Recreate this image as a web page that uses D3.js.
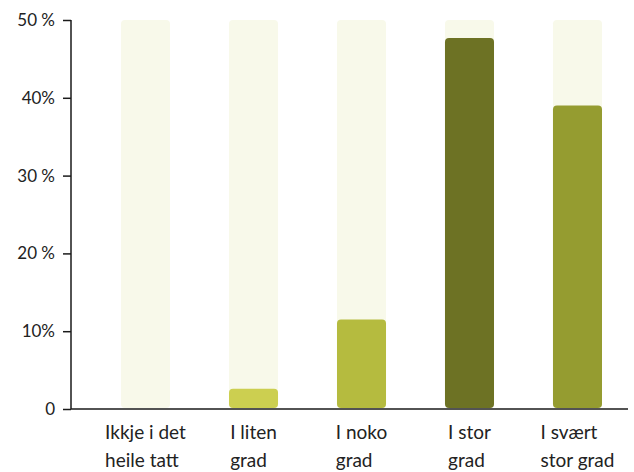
<!DOCTYPE html>
<html>
<head>
<meta charset="utf-8">
<script src="https://cdn.jsdelivr.net/npm/d3@7"></script>
<style>
body{margin:0;background:#fff;}
text{font-family:Lato,"Open Sans",sans-serif;fill:#222;}
</style>
</head>
<body>
<div id="chart"></div>
<script>
var w=634, h=472
var pad={top:20, bottom:63, left:71, right:6};

//Data
var categories=[["Ikkje i det","heile tatt"],["I liten","grad"],["I noko","grad"],["I stor","grad"],["I svært","stor grad"]];
var values=[0,2.6,11.5,47.7,39.0];
var colours=["#f8f9ea","#cccf50","#b5bb3f","#6d7224","#959c30"];
var tickValues=[0,10,20,30,40,50];
var tickLabels=["0","10%","20 %","30 %","40%","50 %"];
var maxValue=50;

var svg=d3.select("#chart")
          .append("svg")
          .attr("width",w)
          .attr("height",h);

var yScale=d3.scaleLinear()
             .domain([0,maxValue])
             .range([h-pad.bottom,pad.top]);
//Bars sit from x=121 to x=602
var xScale=d3.scaleBand()
             .domain(d3.range(categories.length))
             .range([121,602])
             .paddingInner(0.546)
             .paddingOuter(0);

//Background bars up to 50%
svg.append("g")
   .selectAll("rect")
   .data(values)
   .enter()
   .append("rect")
   .attr("x",function(d,i) {return xScale(i);})
   .attr("y",yScale(maxValue))
   .attr("width",xScale.bandwidth())
   .attr("height",yScale(0)-yScale(maxValue)-1)
   .attr("rx",4)
   .style("fill","#f8f9ea");

//Value bars
svg.append("g")
   .selectAll("rect")
   .data(values)
   .enter()
   .append("rect")
   .attr("x",function(d,i) {return xScale(i);})
   .attr("y",function(d) {return yScale(d);})
   .attr("width",xScale.bandwidth())
   .attr("height",function(d) {return Math.max(0,yScale(0)-yScale(d)-1);})
   .attr("rx",4)
   .style("fill",function(d,i) {return colours[i];});

//Y axis
var yAxis=d3.axisLeft(yScale)
            .tickValues(tickValues)
            .tickSize(8)
            .tickPadding(8)
            .tickFormat(function(d,i) {return tickLabels[i];});
var gy=svg.append("g")
          .attr("transform","translate("+pad.left+",0)")
          .call(yAxis);
gy.select(".domain").attr("stroke","#1a1a1a").attr("stroke-width",1.5).attr("d","M0,"+yScale(maxValue)+"V"+yScale(0));
gy.selectAll(".tick line").attr("stroke","#1a1a1a").attr("stroke-width",1.5);
gy.selectAll(".tick text").style("font-size","17px").style("font-family","Lato,sans-serif").attr("fill","#222");

//X axis line
svg.append("line")
   .attr("x1",pad.left)
   .attr("x2",w-pad.right)
   .attr("y1",yScale(0))
   .attr("y2",yScale(0))
   .attr("stroke","#1a1a1a")
   .attr("stroke-width",1.5);

//Category labels: two left-aligned lines, block centred under the bar
var labels=svg.append("g")
              .selectAll("text")
              .data(categories)
              .enter()
              .append("text")
              .attr("text-anchor","start")
              .style("font-size","19px");
labels.selectAll("tspan")
      .data(function(d) {return d;})
      .enter()
      .append("tspan")
      .attr("y",function(d,j) {return yScale(0)+30+j*28;})
      .text(function(d) {return d;});
labels.each(function(d,i) {
    var spans=d3.select(this).selectAll("tspan");
    var widest=d3.max(spans.nodes(),function(n) {return n.getComputedTextLength();});
    var x=xScale(i)+xScale.bandwidth()/2-widest/2;
    x=Math.min(x,w-4-widest);
    spans.attr("x",x);
});
</script>
</body>
</html>
